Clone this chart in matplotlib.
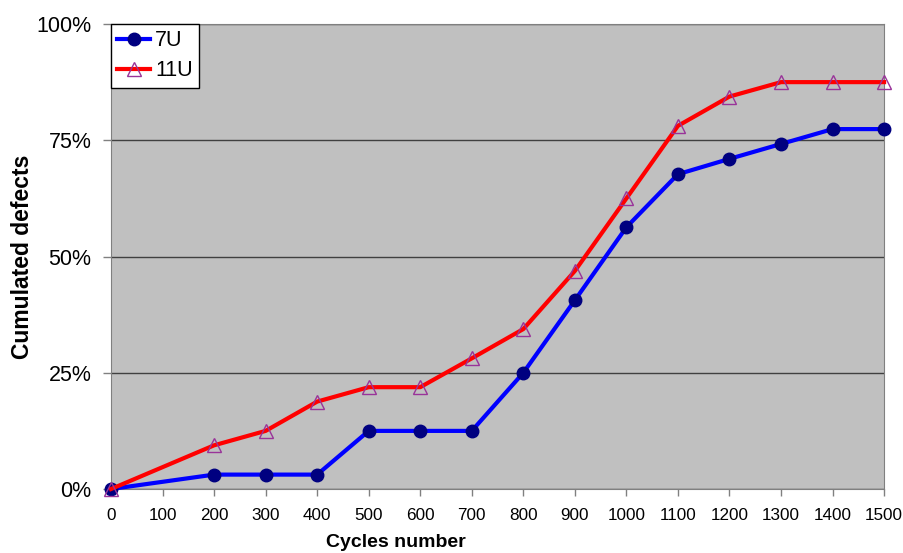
import matplotlib
matplotlib.use("Agg")
import matplotlib.pyplot as plt
from matplotlib.ticker import PercentFormatter

plt.rcParams["font.family"] = ["Liberation Sans", "DejaVu Sans"]

# Cycles (x) and cumulated defects in % (y)
cycles = [0, 200, 300, 400, 500, 600, 700, 800, 900, 1000, 1100, 1200, 1300, 1400, 1500]
defects_7u = [0, 3.1, 3.1, 3.1, 12.5, 12.5, 12.5, 25.0, 40.6, 56.3, 67.7, 71.0, 74.2, 77.4, 77.4]
defects_11u = [0, 9.4, 12.5, 18.8, 21.9, 21.9, 28.1, 34.4, 46.9, 62.5, 78.1, 84.4, 87.5, 87.5, 87.5]
x_ticks = list(range(0, 1501, 100))
y_ticks = [0, 25, 50, 75, 100]

fig = plt.figure(figsize=(9.04, 5.53), dpi=100)
ax = fig.add_axes([0.1228, 0.1157, 0.978 - 0.1228, 0.9566 - 0.1157])
ax.set_facecolor("#c0c0c0")

ax.plot(cycles, defects_7u, color="#0000ff", lw=3, marker="o", ms=9,
        mfc="#000080", mec="#000080", label="7U", zorder=3, clip_on=False)
ax.plot(cycles, defects_11u, color="#ff0000", lw=3, marker="^", ms=10,
        mfc="none", mec="#993399", mew=1, label="11U", zorder=3, clip_on=False)

ax.set_xlim(0, 1500)
ax.set_ylim(0, 100)
ax.set_xticks(x_ticks)
ax.set_yticks(y_ticks)
ax.yaxis.set_major_formatter(PercentFormatter(decimals=0))
ax.yaxis.grid(True, color="#404040", lw=1)
ax.set_axisbelow(True)
for s in ax.spines.values():
    s.set_color("#808080")
ax.tick_params(axis="x", colors="#808080", labelcolor="black", labelsize=12.3,
               length=5, width=1, pad=9)
ax.tick_params(axis="y", colors="#808080", labelcolor="black", labelsize=15.5,
               length=6, width=1, pad=8)

ax.set_xlabel("Cycles number", fontsize=14, fontweight="bold")
ax.xaxis.set_label_coords(0.368, -0.097)
ax.set_ylabel("Cumulated defects", fontsize=16.5, fontweight="bold", labelpad=2)

leg = ax.legend(loc="upper left", fontsize=15.5, frameon=True, fancybox=False,
                borderaxespad=0, handlelength=1.5, borderpad=0.3, labelspacing=0.4,
                handletextpad=0.25)
leg.get_frame().set_edgecolor("black")
leg.get_frame().set_facecolor("white")
leg.get_frame().set_alpha(1)
leg.set_zorder(5)

fig.savefig("out.png", dpi=100)
